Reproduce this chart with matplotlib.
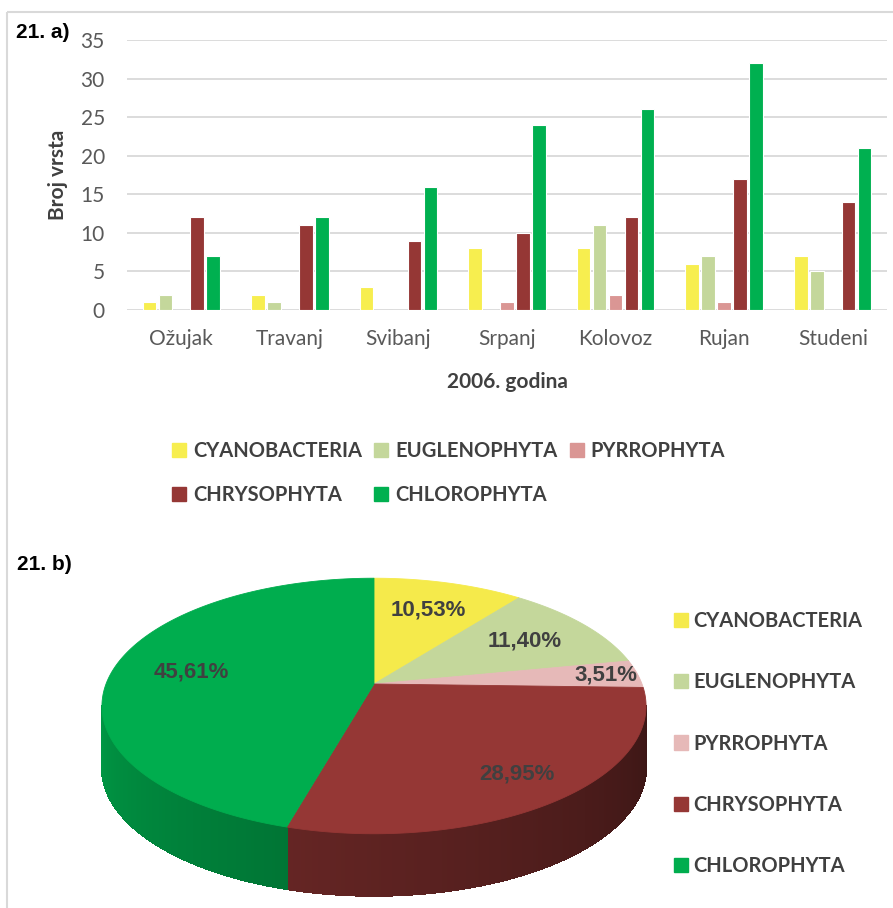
import numpy as np
import matplotlib.pyplot as plt
from matplotlib.patches import Patch, Rectangle
from matplotlib.collections import PolyCollection
from matplotlib.colors import to_rgb

# data
months = ['Ožujak', 'Travanj', 'Svibanj', 'Srpanj', 'Kolovoz', 'Rujan', 'Studeni']
groups = ['CYANOBACTERIA', 'EUGLENOPHYTA', 'PYRROPHYTA', 'CHRYSOPHYTA', 'CHLOROPHYTA']
cyanobacteria = [1, 2, 3, 8, 8, 6, 7]
euglenophyta = [2, 1, 0, 0, 11, 7, 5]
pyrrophyta = [0, 0, 0, 1, 2, 1, 0]
chrysophyta = [12, 11, 9, 10, 12, 17, 14]
chlorophyta = [7, 12, 16, 24, 26, 32, 21]
series = [cyanobacteria, euglenophyta, pyrrophyta, chrysophyta, chlorophyta]
yticks = [0, 5, 10, 15, 20, 25, 30, 35]

# total species per group (2006), 114 in all
pie_counts = [12, 13, 4, 33, 52]

bar_colors = ['#F7EE4F', '#C4D79B', '#DA9694', '#953735', '#00B050']
pie_colors = ['#F5EA4B', '#C4D79B', '#E6B9B8', '#953735', '#00AD4E']
txt = '#404040'
tick_c = '#595959'

W, H = 893, 908
fig = plt.figure(figsize=(W / 100, H / 100), dpi=100)

# overlay in pixel coords for frame, pie and titles
ov = fig.add_axes([0, 0, 1, 1])
ov.set_xlim(0, W)
ov.set_ylim(H, 0)
ov.axis('off')
ov.add_patch(Rectangle((7, 12), W, H, fill=False, ec='#D9D9D9', lw=1.5))

# ---- 21. a) bar chart
ax = fig.add_axes([127 / W, 1 - 310 / H, 760 / W, 270 / H])
x = np.arange(len(months))
bw, step = 0.125, 0.147
for i, (vals, c) in enumerate(zip(series, bar_colors)):
    ax.bar(x + (i - 2) * step, vals, bw, color=c, ec='white', lw=0.8, zorder=3)
ax.set_xlim(-0.5, len(months) - 0.5)
ax.set_ylim(0, 35)
ax.set_yticks(yticks)
ax.set_xticks(x, months)
ax.grid(axis='y', color='#D9D9D9', lw=1.3, zorder=0)
for s in ax.spines.values():
    s.set_visible(False)
ax.tick_params(length=0, labelcolor=tick_c, labelsize=15)
ax.tick_params(axis='y', pad=16)
ax.tick_params(axis='x', pad=14)
for lab in ax.get_xticklabels() + ax.get_yticklabels():
    lab.set_family('Lato')
ax.set_ylabel('Broj vrsta', family='Lato', weight='bold', size=15, color=txt, labelpad=9)
ax.set_xlabel('2006. godina', family='Lato', weight='bold', size=15, color=txt, labelpad=16)

handles = [Patch(color=c) for c in bar_colors]
order = [0, 3, 1, 4, 2]
fig.legend([handles[k] for k in order], [groups[k] for k in order], ncol=3,
           loc='upper left', bbox_to_anchor=(172 / W, 1 - 441 / H), frameon=False,
           borderpad=0, borderaxespad=0, handlelength=0.7, handleheight=0.7,
           handletextpad=0.35, columnspacing=0.6, labelspacing=1.2, labelcolor=txt,
           prop=dict(family='Lato', weight='bold', size=14.5))

ov.text(16, 32, '21. a)', family='Liberation Sans', weight='bold', size=15, va='center')
ov.text(17, 565, '21. b)', family='Liberation Sans', weight='bold', size=15, va='center')

# ---- 21. b) 3D pie (simple perspective of a tilted disc)
PCX, PCY, PA, PB, P, DEPTH = 374, 684, 268, 124, 0.172, 62


def proj(theta, r=1.0):
    t = np.radians(theta)
    u, v = r * np.sin(t), r * np.cos(t)
    s = 1 + P * v
    return PCX + PA * u / s, PCY - PB * v / s


total = sum(pie_counts)
bounds = np.cumsum([0] + pie_counts) / total * 360

# side wall, front part only
th = np.linspace(0, 360, 1441)
quads, cols = [], []
for t0, t1 in zip(th[:-1], th[1:]):
    tm = (t0 + t1) / 2
    if np.cos(np.radians(tm)) > -P:
        continue
    k = np.searchsorted(bounds, tm) - 1
    shade = 0.39 + 0.003 * (tm - 100)
    cols.append(np.clip(np.array(to_rgb(pie_colors[k])) * shade, 0, 1))
    x0, y0 = proj(t0)
    x1, y1 = proj(t1)
    quads.append([(x0, y0), (x1, y1), (x1, y1 + DEPTH), (x0, y0 + DEPTH)])
ov.add_collection(PolyCollection(quads, facecolors=cols, edgecolors=cols, linewidths=0.8,
                                 antialiased=False))

# top face
for k in range(len(pie_counts)):
    arc = np.linspace(bounds[k], bounds[k + 1], 200)
    ax_, ay_ = proj(arc)
    ov.fill(np.r_[PCX, ax_], np.r_[PCY, ay_], color=pie_colors[k], lw=0.6)

label_r = [0.7, 0.7, 0.88, 0.8, 0.7]
for k, c in enumerate(pie_counts):
    mid = (bounds[k] + bounds[k + 1]) / 2
    lx, ly = proj(mid, label_r[k])
    ov.text(lx, ly, f'{100 * c / total:.2f}%'.replace('.', ','), ha='center', va='center',
            family='Liberation Sans', weight='bold', size=16, color=txt)

pie_handles = [Patch(color=c) for c in pie_colors]
fig.legend(pie_handles, groups, loc='upper left', bbox_to_anchor=(674 / W, 1 - 611 / H),
           frameon=False, borderpad=0, borderaxespad=0, handlelength=0.7, handleheight=0.7,
           handletextpad=0.25, labelspacing=2.05, labelcolor=txt,
           prop=dict(family='Lato', weight='bold', size=14.5))

fig.savefig('out.png', dpi=100)
